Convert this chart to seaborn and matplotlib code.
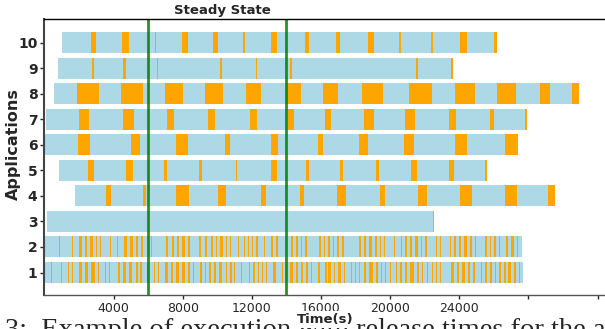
import matplotlib
matplotlib.use("Agg")
import matplotlib.pyplot as plt
import seaborn as sns

# ---------------- data (seconds) ----------------
apps = [1, 2, 3, 4, 5, 6, 7, 8, 9, 10]
app_start = [0, 0, 150, 1770, 850, 0, 90, 560, 790, 1020]
app_end = [27710, 27650, 22560, 29560, 25630, 27420, 27940, 30930, 23660, 26200]

io_app1 = [(380, 440), (960, 1020), (1370, 1420), (1600, 1660), (2000, 2180), (2350, 2520),
           (2700, 2930), (3100, 3160), (3510, 3570), (3740, 3800), (4260, 4380), (4550, 4720),
           (4900, 5070), (5300, 5420), (5540, 5650), (5940, 6000), (6350, 6400), (6580, 6640),
           (6980, 7160), (7330, 7450), (7620, 7790), (7970, 8140), (8310, 8430), (8600, 8660),
           (9010, 9120), (9300, 9360), (9530, 9650), (9820, 9940), (10110, 10280), (10510, 10570),
           (10750, 10860), (10980, 11040), (11380, 11440), (11850, 11900), (12080, 12190),
           (12370, 12430), (12600, 12660), (12830, 12890), (13240, 13410), (13760, 13820),
           (14220, 14390), (14570, 14680), (14860, 14970), (15150, 15260), (15440, 15490),
           (15840, 15960), (16250, 16360), (16420, 16590), (16770, 16830), (17000, 17170),
           (17350, 17400), (17750, 17810), (17980, 18040), (18220, 18270), (18510, 18620),
           (18790, 19030), (19200, 19320), (19490, 19550), (19720, 19780), (20010, 20070),
           (20360, 20420), (20590, 20710), (20880, 21000), (21170, 21400), (21570, 21690),
           (21860, 21920), (22150, 22210), (22440, 22500), (22670, 22730), (22910, 22960),
           (23540, 23720), (23890, 24000), (24180, 24350), (24530, 24640), (24820, 24930),
           (25280, 25340), (25510, 25630), (25800, 25920), (26090, 26150), (26320, 26440),
           (26610, 26730), (26840, 27020), (27190, 27310), (27480, 27540)]
io_app2 = [(850, 900), (1580, 1640), (2000, 2180), (2350, 2470), (2640, 2810), (2990, 3050),
           (3220, 3290), (3800, 3860), (4200, 4260), (4610, 4780), (4960, 5130), (5300, 5420),
           (5590, 5710), (6170, 6230), (7040, 7160), (7390, 7500), (7680, 7790), (7970, 8140),
           (8310, 8430), (8950, 9070), (9300, 9410), (9650, 9760), (9940, 9990), (10170, 10340),
           (10510, 10570), (10750, 10800), (11210, 11270), (11560, 11610), (11790, 11850),
           (12020, 12080), (12250, 12370), (12720, 12770), (13120, 13240), (13410, 13530),
           (14280, 14390), (14570, 14680), (14860, 14920), (15090, 15210), (15900, 16020),
           (16190, 16250), (16420, 16540), (16710, 16770), (16940, 17060), (17230, 17350),
           (18220, 18330), (18510, 18620), (18790, 18970), (19140, 19260), (19430, 19490),
           (19660, 19720), (20240, 20300), (20650, 20710), (20880, 21000), (21170, 21280),
           (21460, 21630), (21800, 21860), (22040, 22150), (22670, 22730), (22910, 22960),
           (23480, 23540), (23720, 23830), (24000, 24120), (24290, 24470), (24640, 24760),
           (24930, 24990), (25510, 25630), (25800, 25860), (26030, 26150), (26320, 26380),
           (26730, 26840), (27020, 27190), (27360, 27420), (27600, 27650)]
io_app3 = [(22500, 22560)]
io_app4 = [(3570, 3860), (5710, 5880), (7620, 8370), (10050, 10520), (12540, 12830),
           (14800, 15030), (16940, 17460), (19430, 19720), (21630, 22150), (24060, 24760),
           (26670, 27360), (29160, 29560)]
io_app5 = [(2520, 2870), (4720, 5130), (6920, 7100), (8950, 9120), (11090, 11150),
           (13120, 13470), (15150, 15320), (17110, 17290), (19200, 19370), (21230, 21570),
           (23430, 23710), (25510, 25630)]
io_app6 = [(1950, 2640), (5010, 5540), (7620, 8310), (10460, 10750), (13120, 13530),
           (15840, 16130), (18220, 18740), (20820, 21400), (23770, 24470), (26670, 27420)]
io_app7 = [(2000, 2580), (4550, 5190), (7100, 7500), (9470, 9880), (11900, 12310),
           (14100, 14450), (16250, 16590), (18510, 19080), (20880, 21460), (23430, 23830),
           (25800, 26030), (27830, 27940)]
io_app8 = [(1890, 3160), (4440, 5710), (6980, 8020), (9300, 10340), (11670, 12540),
           (13990, 14860), (16130, 17000), (18400, 19560), (21070, 22400), (23770, 24930),
           (26160, 27260), (28670, 29250), (30520, 30930)]
io_app9 = [(2760, 2870), (4550, 4720), (6520, 6580), (10170, 10280), (12250, 12310),
           (14220, 14340), (21520, 21630), (23540, 23660)]
io_app10 = [(2700, 2990), (4490, 4900), (6400, 6460), (7970, 8310), (9760, 10050),
            (11500, 11610), (13120, 13470), (15090, 15320), (16880, 17120), (18740, 19080),
            (20530, 20650), (22380, 22500), (24060, 24470), (26030, 26200)]
io_lists = [io_app1, io_app2, io_app3, io_app4, io_app5,
            io_app6, io_app7, io_app8, io_app9, io_app10]

steady_start, steady_end = 6000, 14000
x_ticks = [4000, 8000, 12000, 16000, 20000, 24000, 28000, 32000]
x_tick_labels = ["4000", "8000", "12000", "16000", "20000", "24000", "", ""]
caption = "3:  Example of execution with release times for the applications"

# ---------------- plot ----------------
sns.set_theme(style="ticks")
plt.rcParams["font.family"] = ["DejaVu Sans"]

fig = plt.figure(figsize=(6.05, 3.29), dpi=100)
ax = fig.add_axes([0.0734, 0.1033, 0.9286, 0.8389])

for app, s, e, ios in zip(apps, app_start, app_end, io_lists):
    ax.broken_barh([(s, e - s)], (app - 0.41, 0.82), facecolors="lightblue", linewidth=0)
    ax.broken_barh([(a, b - a) for a, b in ios], (app - 0.41, 0.82),
                   facecolors="orange", linewidth=0)

ax.axvline(steady_start, color="green", lw=2, alpha=0.85)
ax.axvline(steady_end, color="green", lw=2, alpha=0.85)
ax.text(10300, 11.0, "Steady State", ha="center", va="bottom",
        fontsize=9.5, fontweight="bold")

ax.set_xlim(0, 32500)
ax.set_ylim(0.12, 10.92)
ax.set_yticks(apps)
ax.set_yticklabels([str(a) for a in apps], fontsize=10, fontweight="bold")
ax.set_xticks(x_ticks)
ax.set_xticklabels(x_tick_labels, fontsize=9)
ax.tick_params(axis="both", direction="out", length=3, width=1, pad=2)
ax.set_xlabel("Time(s)", fontsize=9.5, fontweight="bold",
              bbox=dict(facecolor="white", edgecolor="none", pad=1.5))
ax.xaxis.set_label_coords(0.5, -0.065)
ax.xaxis.label.set_va("top")
ax.set_ylabel("Applications", fontsize=11.5, fontweight="bold")
ax.yaxis.set_label_coords(-0.041, 0.547)
for sp in ax.spines.values():
    sp.set_color("black")
    sp.set_linewidth(1.0)
ax.spines["bottom"].set_color("#555555")
ax.spines["left"].set_color("#444444")
ax.spines["left"].set_linewidth(1.5)

fig.text(0.008, 0.0334, caption, fontsize=20.5, family="Liberation Serif",
         va="top", ha="left", zorder=-1)

fig.savefig("out.png", dpi=100)
